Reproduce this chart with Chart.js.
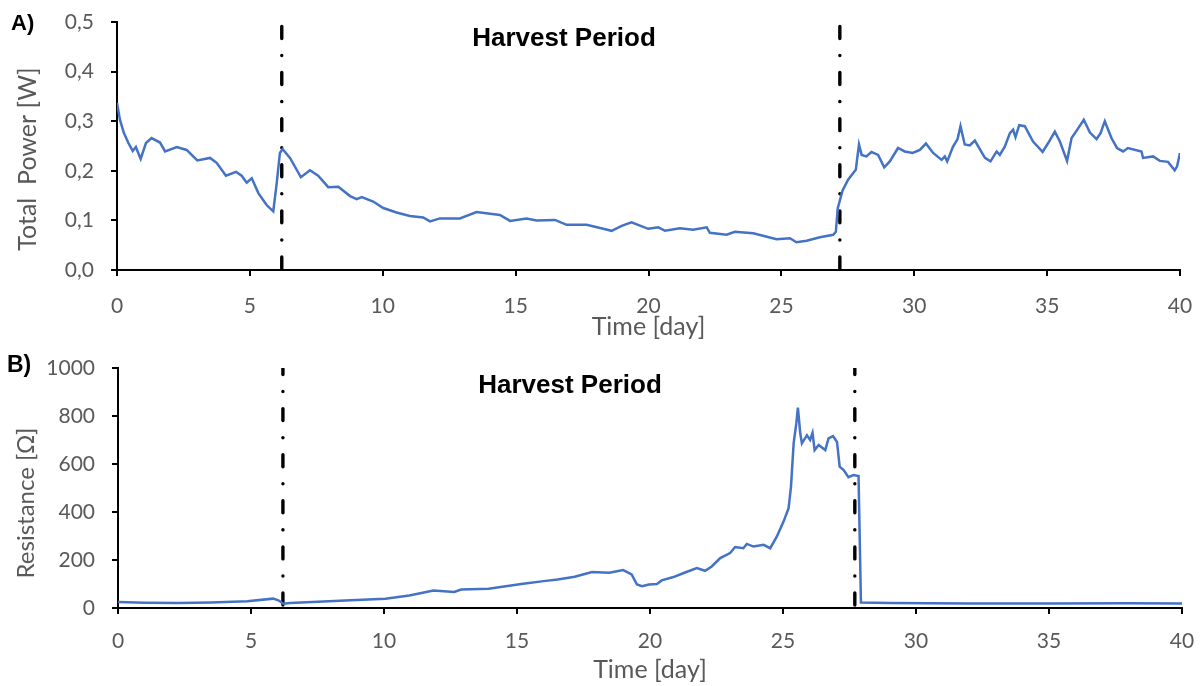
<!DOCTYPE html>
<html>
<head>
<meta charset="utf-8">
<script src="https://cdn.jsdelivr.net/npm/chart.js@4.4.1/dist/chart.umd.min.js"></script>
<style>
  body { margin: 0; background: #fff; }
  .panel { position: absolute; left: 0; width: 1203px; height: 343px; }
  #panelA { top: 0; }
  #panelB { top: 343px; }
</style>
</head>
<body>
<div class="panel" id="panelA"><canvas id="powerChart" width="1203" height="343"></canvas></div>
<div class="panel" id="panelB"><canvas id="resChart" width="1203" height="343"></canvas></div>
<script>
// === Data ===
const dayTicks = [0, 5, 10, 15, 20, 25, 30, 35, 40];
const powerTicks = [0, 0.1, 0.2, 0.3, 0.4, 0.5];
const powerTickLabels = ['0,0', '0,1', '0,2', '0,3', '0,4', '0,5'];
const resTicks = [0, 200, 400, 600, 800, 1000];
const resTickLabels = ['0', '200', '400', '600', '800', '1000'];

// harvest period borders (day)
const powerHarvestDays = [6.2, 27.2];
const resHarvestDays = [6.2, 27.7];

const powerDays = [0.00, 0.11, 0.26, 0.43, 0.59, 0.71, 0.89, 1.09, 1.30, 1.62, 1.81, 2.25, 2.62, 3.02, 3.50, 3.75,
  4.10, 4.48, 4.69, 4.88, 5.07, 5.32, 5.63, 5.88, 6.01, 6.13, 6.23, 6.51, 6.92, 7.26, 7.57, 7.95, 8.33, 8.77,
  9.02, 9.21, 9.64, 10.02, 10.52, 11.02, 11.52, 11.78, 12.15, 12.90, 13.53, 14.41, 14.79, 15.41, 15.79, 16.48,
  16.92, 17.67, 18.30, 18.61, 18.99, 19.36, 19.99, 20.37, 20.62, 21.18, 21.68, 22.19, 22.31, 22.94, 23.25,
  23.94, 24.82, 25.32, 25.57, 25.95, 26.45, 26.95, 27.05, 27.12, 27.30, 27.51, 27.80, 27.92, 28.02, 28.20,
  28.39, 28.64, 28.87, 29.08, 29.39, 29.64, 29.94, 30.21, 30.44, 30.71, 31.03, 31.15, 31.24, 31.46, 31.63,
  31.74, 31.90, 32.09, 32.28, 32.66, 32.87, 33.10, 33.22, 33.41, 33.60, 33.72, 33.81, 33.95, 34.16, 34.47,
  34.83, 35.04, 35.29, 35.48, 35.75, 35.92, 36.11, 36.38, 36.61, 36.86, 37.01, 37.17, 37.42, 37.63, 37.86,
  38.04, 38.55, 38.61, 38.99, 39.24, 39.55, 39.80, 39.89, 40.00];
const powerValues = [0.337, 0.303, 0.276, 0.256, 0.240, 0.248, 0.224, 0.256, 0.266, 0.257, 0.239, 0.248, 0.242, 0.221, 0.226, 0.216,
  0.190, 0.198, 0.190, 0.176, 0.185, 0.155, 0.131, 0.118, 0.175, 0.236, 0.244, 0.226, 0.187, 0.201, 0.190, 0.167, 0.168, 0.149,
  0.143, 0.147, 0.138, 0.125, 0.116, 0.109, 0.106, 0.098, 0.104, 0.104, 0.117, 0.111, 0.099, 0.104, 0.100, 0.101,
  0.091, 0.091, 0.083, 0.079, 0.089, 0.096, 0.083, 0.086, 0.079, 0.084, 0.081, 0.086, 0.075, 0.071, 0.077,
  0.074, 0.062, 0.064, 0.056, 0.059, 0.066, 0.071, 0.077, 0.124, 0.160, 0.182, 0.202, 0.253, 0.232, 0.229,
  0.238, 0.232, 0.207, 0.219, 0.246, 0.239, 0.236, 0.242, 0.255, 0.236, 0.222, 0.229, 0.219, 0.249, 0.264,
  0.290, 0.253, 0.251, 0.261, 0.226, 0.219, 0.239, 0.232, 0.249, 0.276, 0.283, 0.268, 0.292, 0.290, 0.259,
  0.238, 0.256, 0.279, 0.259, 0.220, 0.266, 0.281, 0.303, 0.277, 0.264, 0.276, 0.300, 0.266, 0.246, 0.239,
  0.246, 0.239, 0.226, 0.229, 0.220, 0.218, 0.201, 0.209, 0.236];

const resDays = [0, 1.0, 2.27, 3.5, 4.86, 5.83, 6.03, 6.22, 6.48, 8.75, 10.05, 10.95, 11.86, 12.64, 12.9, 13.93,
  15.23, 16.0, 16.53, 17.17, 17.82, 18.47, 18.99, 19.31, 19.51, 19.7, 19.96, 20.26, 20.44, 20.88, 21.32, 21.76,
  22.07, 22.32, 22.64, 23.01, 23.2, 23.51, 23.64, 23.89, 24.27, 24.52, 24.77, 25.02, 25.21, 25.3, 25.4, 25.5,
  25.56, 25.65, 25.71, 25.9, 26.02, 26.11, 26.19, 26.34, 26.59, 26.71, 26.88, 27.03, 27.13, 27.28, 27.46,
  27.65, 27.84, 27.93, 29.03, 32, 35, 38, 40];
const resValues = [25, 22, 21, 23, 28, 39, 32, 18, 21, 32, 39, 52, 73, 67, 77, 80,
  101, 112, 119, 130, 150, 147, 158, 140, 98, 91, 98, 100, 115, 129, 148, 166,
  155, 173, 208, 229, 254, 249, 267, 256, 263, 249, 298, 360, 416, 505, 686, 769,
  835, 727, 686, 720, 700, 730, 658, 679, 658, 707, 716, 692, 589, 575, 545,
  554, 550, 23, 21, 19, 19, 20, 19];

const lineBlue = '#4472C4';
const tickGray = '#595959';

// yazıları çizen küçük eklenti
const overlayText = {
  id: 'overlayText',
  afterDraw(chart, args, opts) {
    const ctx = chart.ctx;
    (opts.items || []).forEach(t => {
      ctx.save();
      ctx.font = t.font;
      ctx.fillStyle = t.color;
      ctx.textAlign = t.align || 'center';
      ctx.textBaseline = 'alphabetic';
      ctx.translate(t.x, t.y);
      if (t.rotate) ctx.rotate(t.rotate);
      ctx.fillText(t.text, 0, 0);
      ctx.restore();
    });
  }
};

function harvestLines(days, top, offset) {
  return days.map(d => ({
    data: [{ x: d, y: top }, { x: d, y: 0 }],
    borderColor: '#000',
    borderWidth: 3.4,
    borderDash: [12, 17, 0.1, 17],
    borderDashOffset: offset,
    borderCapStyle: 'round',
    pointRadius: 0,
    tension: 0
  }));
}

function makeChart(id, cfg) {
  const ctx = document.getElementById(id).getContext('2d');
  return new Chart(ctx, {
    type: 'line',
    data: {
      datasets: [{
        data: cfg.days.map((d, i) => ({ x: d, y: cfg.values[i] })),
        borderColor: lineBlue,
        borderWidth: 2.5,
        pointRadius: 0,
        tension: 0
      }, ...harvestLines(cfg.harvest, cfg.lineTop, cfg.dashOffset)]
    },
    options: {
      responsive: false,
      animation: false,
      devicePixelRatio: 1,
      layout: { padding: cfg.padding },
      plugins: {
        legend: { display: false },
        tooltip: { enabled: false },
        overlayText: { items: cfg.texts }
      },
      scales: {
        x: {
          type: 'linear',
          min: 0, max: 40,
          afterBuildTicks: s => { s.ticks = dayTicks.map(v => ({ value: v })); },
          afterFit: s => { s.height = cfg.xHeight; s.paddingLeft = 0; s.paddingRight = 0; },
          border: { color: '#000', width: 2 },
          grid: { drawOnChartArea: false, color: '#000', lineWidth: 2, tickLength: 6 },
          ticks: { color: tickGray, font: { family: 'Lato', size: 21 }, padding: cfg.xTickPad, maxRotation: 0 },
          title: {
            display: true, text: 'Time [day]', color: tickGray,
            font: { family: 'Lato', size: 25, lineHeight: 1.2 }, padding: { top: 0, bottom: 1 }
          }
        },
        y: {
          min: cfg.yTicks[0], max: cfg.yTicks[cfg.yTicks.length - 1],
          afterBuildTicks: s => { s.ticks = cfg.yTicks.map(v => ({ value: v })); },
          afterFit: s => { s.width = cfg.yWidth; s.paddingTop = 0; s.paddingBottom = 0; },
          border: { color: '#000', width: 2 },
          grid: { drawOnChartArea: false, color: '#000', lineWidth: 2, tickLength: 6 },
          ticks: {
            color: tickGray, font: { family: 'Lato', size: 21 }, padding: 17,
            callback: v => cfg.yLabels[cfg.yTicks.indexOf(v)]
          }
        }
      }
    },
    plugins: [overlayText]
  });
}

makeChart('powerChart', {
  days: powerDays, values: powerValues, harvest: powerHarvestDays, lineTop: 0.491, dashOffset: 0,
  yTicks: powerTicks, yLabels: powerTickLabels, xTickPad: 18,
  padding: { left: 0, right: 23, top: 22, bottom: 0 }, yWidth: 117, xHeight: 73,
  texts: [
    { text: 'A)', x: 11, y: 30, font: 'bold 22px "Liberation Sans", Arial', color: '#000', align: 'left' },
    { text: 'Harvest Period', x: 564, y: 45.5, font: 'bold 26px "Liberation Sans", Arial', color: '#000' },
    { text: 'Total  Power [W]', x: 36, y: 159, font: '25px Lato', color: tickGray, rotate: -Math.PI / 2 }
  ]
});

makeChart('resChart', {
  days: resDays, values: resValues, harvest: resHarvestDays, lineTop: 998, dashOffset: 6,
  yTicks: resTicks, yLabels: resTickLabels, xTickPad: 15,
  padding: { left: 0, right: 21, top: 25, bottom: 0 }, yWidth: 118, xHeight: 78,
  texts: [
    { text: 'B)', x: 7, y: 28.7, font: 'bold 23px "Liberation Sans", Arial', color: '#000', align: 'left' },
    { text: 'Harvest Period', x: 570, y: 49.7, font: 'bold 26px "Liberation Sans", Arial', color: '#000' },
    { text: 'Resistance [Ω]', x: 34, y: 160, font: '24px Lato', color: tickGray, rotate: -Math.PI / 2 }
  ]
});
</script>
</body>
</html>
